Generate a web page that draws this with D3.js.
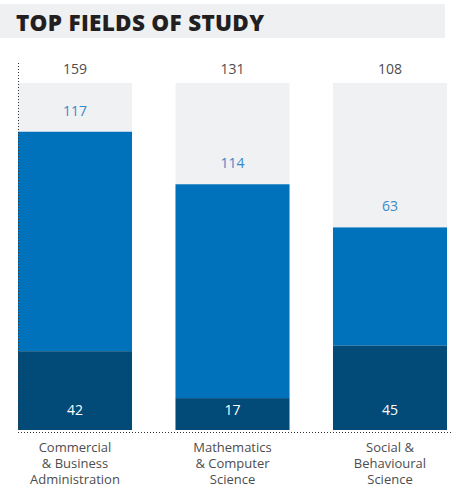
<!DOCTYPE html>
<html><head><meta charset="utf-8">
<script src="https://cdn.jsdelivr.net/npm/d3@7"></script>
<style>body{margin:0;background:#fff}svg{display:block}</style>
</head><body><svg id="c" width="451" height="488"></svg>
<script>
const categories = [["Commercial","& Business","Administration"],["Mathematics","& Computer","Science"],["Social &","Behavioural","Science"]];
const darkValues = [42, 17, 45];
const blueValues = [117, 114, 63];
const totals = [159, 131, 108];
const yMax = 185;

const svg = d3.select("#c");
const font = "'Open Sans', sans-serif";
// Title banner
svg.append("rect").attr("x",0).attr("y",4).attr("width",445).attr("height",34).attr("fill","#eff0f2");
svg.append("text").attr("x",16).attr("y",31).text("TOP FIELDS OF STUDY")
  .attr("font-family",font).attr("font-weight",800).attr("font-size",22.5).attr("fill","#231f20").attr("letter-spacing","0.3");

const x = d3.scaleBand().domain(d3.range(3)).range([18,447]).paddingInner(0.276).paddingOuter(0);
const y = d3.scaleLinear().domain([0,yMax]).range([430,83]);

const g = svg.append("g");
d3.range(3).forEach(i=>{
  const x0 = x(i), w = x.bandwidth(), cx = x0+w/2;
  g.append("rect").attr("x",x0).attr("y",y(yMax)).attr("width",w).attr("height",y(0)-y(yMax)).attr("fill","#f0f1f3");
  g.append("rect").attr("x",x0).attr("y",y(totals[i])).attr("width",w).attr("height",y(darkValues[i])-y(totals[i])).attr("fill","#0071bb");
  g.append("rect").attr("x",x0).attr("y",y(darkValues[i])).attr("width",w).attr("height",y(0)-y(darkValues[i])).attr("fill","#024a78");
  g.append("text").attr("x",cx).attr("y",74).attr("text-anchor","middle").text(totals[i])
    .attr("font-family",font).attr("font-size",14).attr("fill","#4d4d4f");
  g.append("text").attr("x",cx).attr("y",y(totals[i])-16).attr("text-anchor","middle").text(blueValues[i])
    .attr("font-family",font).attr("font-size",14).attr("fill","#3b88c9");
  g.append("text").attr("x",cx).attr("y",415).attr("text-anchor","middle").text(darkValues[i])
    .attr("font-family",font).attr("font-size",14).attr("fill","#ffffff");
  const t = g.append("text").attr("text-anchor","middle").attr("font-family",font).attr("font-size",13).attr("fill","#4d4d4f");
  categories[i].forEach((line,j)=>{
    t.append("tspan").attr("x",cx).attr("y",452+j*16).text(line);
  });
});
// dotted axes
svg.append("line").attr("x1",18.5).attr("x2",18.5).attr("y1",63).attr("y2",431)
  .attr("stroke","#333").attr("stroke-width",1).attr("stroke-dasharray","1,2");
svg.append("line").attr("x1",18).attr("x2",451).attr("y1",432.5).attr("y2",432.5)
  .attr("stroke","#333").attr("stroke-width",1).attr("stroke-dasharray","1,2");
</script></body></html>
